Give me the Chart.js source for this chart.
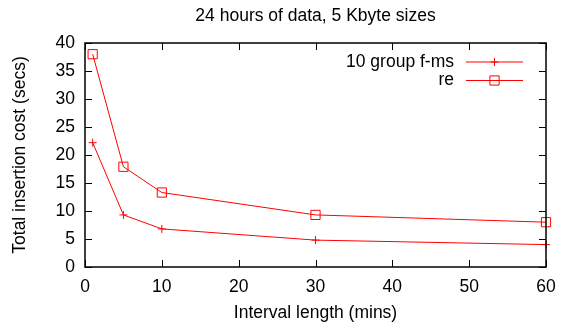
<!DOCTYPE html>
<html>
<head>
<meta charset="utf-8">
<script src="https://cdn.jsdelivr.net/npm/chart.js@4/dist/chart.umd.min.js"></script>
<style>
  html, body { margin: 0; padding: 0; background: #fff; }
</style>
</head>
<body>
<canvas id="chart" width="568" height="328"></canvas>
<script>
// interval length (mins) vs total insertion cost (secs)
const intervals = [1, 5, 10, 30, 60];
const fmsCost = [22.2, 9.3, 6.8, 4.8, 4.0];
const reCost = [38.0, 17.9, 13.3, 9.3, 8.0];
const seriesNames = ['10 group f-ms', 're'];
const xTickValues = [0, 10, 20, 30, 40, 50, 60];
const yTickValues = [0, 5, 10, 15, 20, 25, 30, 35, 40];
const chartTitle = '24 hours of data, 5 Kbyte sizes';

const RED = 'rgb(255, 0, 0)';
const FONT = "'Liberation Sans', Arial, sans-serif";

Chart.defaults.font.family = FONT;
Chart.defaults.font.size = 17.5;
Chart.defaults.color = '#000';

const toPoints = (ys) => intervals.map((x, i) => ({ x, y: ys[i] }));

// gnuplot-ish frame: box, inward mirrored ticks, key, title
const framePlugin = {
    id: 'frame',
    afterDraw(chart) {
        const { ctx, chartArea: a, scales } = chart;
        const tl = 7;
        ctx.save();
        ctx.strokeStyle = '#000';
        ctx.lineWidth = 1.5;
        ctx.strokeRect(a.left, a.top, a.right - a.left, a.bottom - a.top);

        ctx.lineWidth = 1;
        ctx.beginPath();
        xTickValues.forEach(v => {
            const px = Math.round(scales.x.getPixelForValue(v)) + 0.5;
            ctx.moveTo(px, a.bottom); ctx.lineTo(px, a.bottom - tl);
            ctx.moveTo(px, a.top); ctx.lineTo(px, a.top + tl);
        });
        yTickValues.forEach(v => {
            const py = Math.round(scales.y.getPixelForValue(v)) + 0.5;
            ctx.moveTo(a.left, py); ctx.lineTo(a.left + tl, py);
            ctx.moveTo(a.right, py); ctx.lineTo(a.right - tl, py);
        });
        ctx.stroke();

        // key
        ctx.font = '17.5px ' + FONT;
        ctx.textAlign = 'right';
        ctx.textBaseline = 'middle';
        chart.data.datasets.forEach((ds, i) => {
            const y = 62 + i * 18.5;
            ctx.fillStyle = '#000';
            ctx.fillText(ds.label, 454, y);
            ctx.strokeStyle = ds.borderColor;
            ctx.lineWidth = 1;
            ctx.beginPath();
            ctx.moveTo(466, y); ctx.lineTo(523, y);
            ctx.stroke();
            ctx.fillStyle = 'rgba(0,0,0,0)';
            Chart.helpers.drawPoint(ctx, {
                pointStyle: ds.pointStyle,
                radius: ds.pointRadius,
                rotation: 0,
                borderWidth: 1
            }, 494.5, y);
        });

        // title over the plot area
        ctx.fillStyle = '#000';
        ctx.textAlign = 'center';
        ctx.fillText(chartTitle, (a.left + a.right) / 2, 16);
        ctx.restore();
    }
};

new Chart(document.getElementById('chart'), {
    type: 'line',
    data: {
        datasets: [
            {
                label: seriesNames[0],
                data: toPoints(fmsCost),
                borderColor: RED,
                backgroundColor: RED,
                borderWidth: 1,
                pointStyle: 'cross',
                pointRadius: 4,
                pointBorderWidth: 1,
                tension: 0,
                clip: false
            },
            {
                label: seriesNames[1],
                data: toPoints(reCost),
                borderColor: RED,
                backgroundColor: 'rgba(0,0,0,0)',
                borderWidth: 1,
                pointStyle: 'rect',
                pointRadius: 6.5,
                pointBorderWidth: 1,
                tension: 0,
                clip: false
            }
        ]
    },
    options: {
        responsive: false,
        animation: false,
        devicePixelRatio: 1,
        layout: { padding: { top: 43, left: 0, right: 22, bottom: 0 } },
        plugins: {
            legend: { display: false },
            title: { display: false },
            tooltip: { enabled: false }
        },
        scales: {
            x: {
                type: 'linear',
                min: 0,
                max: 60,
                afterFit(scale) { scale.height = 61; },
                afterBuildTicks(scale) { scale.ticks = xTickValues.map(v => ({ value: v })); },
                grid: { display: false, drawTicks: false },
                border: { display: false },
                ticks: { padding: 10, maxRotation: 0 },
                title: { display: true, text: 'Interval length (mins)', padding: { top: 0, bottom: 4 } }
            },
            y: {
                type: 'linear',
                min: 0,
                max: 40,
                afterFit(scale) { scale.width = 85; },
                afterBuildTicks(scale) { scale.ticks = yTickValues.map(v => ({ value: v })); },
                grid: { display: false, drawTicks: false },
                border: { display: false },
                ticks: { padding: 10 },
                title: { display: true, text: 'Total insertion cost (secs)', padding: { top: 10, bottom: 0 } }
            }
        }
    },
    plugins: [framePlugin]
});
</script>
</body>
</html>
